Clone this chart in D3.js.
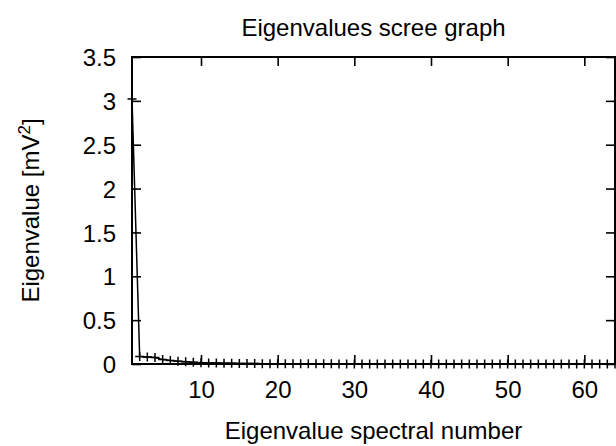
<!DOCTYPE html>
<html>
<head>
<meta charset="utf-8">
<script src="https://cdn.jsdelivr.net/npm/d3@7"></script>
<style>
  html, body { margin: 0; padding: 0; background: #fff; }
  svg { display: block; }
  text { font-family: "Liberation Sans", Arial, Helvetica, sans-serif; fill: #000; }
</style>
</head>
<body>
<script>
// Eigenvalue spectrum, index 1..64
const spectralNumbers = d3.range(1, 65);
const eigenvalues = [
  3.02, 0.085, 0.079, 0.073, 0.050, 0.040, 0.032, 0.025, 0.019, 0.015,
  0.012, 0.010, 0.0085, 0.0072, 0.0062, 0.0054, 0.0047, 0.0041, 0.0036, 0.0032,
  0.0028, 0.0025, 0.0022, 0.0020, 0.0018, 0.0016, 0.0015, 0.0014, 0.0013, 0.0012,
  0.0011, 0.0010, 0.00095, 0.0009, 0.00085, 0.0008, 0.00075, 0.0007, 0.00066, 0.00062,
  0.00058, 0.00055, 0.00052, 0.00049, 0.00046, 0.00043, 0.0004, 0.00038, 0.00036, 0.00034,
  0.00032, 0.0003, 0.00028, 0.00026, 0.00024, 0.00022, 0.0002, 0.00018, 0.00016, 0.00014,
  0.00012, 0.0001, 0.00008, 0.00006
];
const xTicks = [10, 20, 30, 40, 50, 60];
const yTicks = [0, 0.5, 1, 1.5, 2, 2.5, 3, 3.5];
const yTickLabels = ["0", "0.5", "1", "1.5", "2", "2.5", "3", "3.5"];

const W = 616, H = 446;
const plotL = 132, plotR = 615, plotT = 57, plotB = 364;
const fontSize = 24, tickLen = 9;

const svg = d3.select("body").append("svg")
  .attr("width", W).attr("height", H);

const x = d3.scaleLinear().domain([1, 64]).range([plotL, plotR]);
const y = d3.scaleLinear().domain([0, 3.5]).range([plotB, plotT]);

// Axes: ticks point inward on all four sides
const gBottom = svg.append("g").attr("transform", `translate(0,${plotB})`)
  .call(d3.axisBottom(x).tickValues(xTicks).tickFormat(d3.format("d"))
    .tickSizeInner(-tickLen).tickSizeOuter(0));
const gTop = svg.append("g").attr("transform", `translate(0,${plotT})`)
  .call(d3.axisTop(x).tickValues(xTicks).tickFormat("")
    .tickSizeInner(-tickLen).tickSizeOuter(0));
const gLeft = svg.append("g").attr("transform", `translate(${plotL},0)`)
  .call(d3.axisLeft(y).tickValues(yTicks).tickFormat((d, i) => yTickLabels[i])
    .tickSizeInner(-tickLen).tickSizeOuter(0));
const gRight = svg.append("g").attr("transform", `translate(${plotR},0)`)
  .call(d3.axisRight(y).tickValues(yTicks).tickFormat("")
    .tickSizeInner(-tickLen).tickSizeOuter(0));

[gBottom, gTop, gLeft, gRight].forEach(g => {
  g.attr("font-family", null).attr("font-size", null);
  g.select(".domain").remove();
  g.selectAll(".tick line").attr("stroke", "#000").attr("stroke-width", 1.6);
  g.selectAll(".tick text").attr("font-size", fontSize).attr("fill", "#000");
});
gBottom.selectAll(".tick text").attr("y", 34).attr("dy", null);
gLeft.selectAll(".tick text").attr("x", -16).attr("dy", "0.36em");
gTop.selectAll(".tick text").remove();
gRight.selectAll(".tick text").remove();

// Plot border
svg.append("rect")
  .attr("x", plotL).attr("y", plotT)
  .attr("width", plotR - plotL).attr("height", plotB - plotT)
  .attr("fill", "none").attr("stroke", "#000").attr("stroke-width", 2);

// Data line with "+" markers
const pts = spectralNumbers.map((n, i) => [n, eigenvalues[i]]);
svg.append("path")
  .datum(pts)
  .attr("fill", "none").attr("stroke", "#000").attr("stroke-width", 1.5)
  .attr("d", d3.line().x(d => x(d[0])).y(d => y(d[1])));

const s = 4.5;
svg.append("g").selectAll("path").data(pts).join("path")
  .attr("fill", "none").attr("stroke", "#000").attr("stroke-width", 1.5)
  .attr("d", d => {
    const px = x(d[0]), py = y(d[1]);
    return `M${px - s},${py}H${px + s}M${px},${py - s}V${py + s}`;
  });

// Titles
svg.append("text")
  .attr("x", (plotL + plotR) / 2).attr("y", 36)
  .attr("text-anchor", "middle").attr("font-size", fontSize)
  .text("Eigenvalues scree graph");

svg.append("text")
  .attr("x", (plotL + plotR) / 2).attr("y", 439)
  .attr("text-anchor", "middle").attr("font-size", fontSize)
  .text("Eigenvalue spectral number");

const yl = svg.append("text")
  .attr("transform", `translate(39,${(plotT + plotB) / 2}) rotate(-90)`)
  .attr("text-anchor", "middle").attr("font-size", fontSize);
yl.append("tspan").text("Eigenvalue [mV");
yl.append("tspan").attr("font-size", 17).attr("dy", -9).text("2");
yl.append("tspan").attr("dy", 9).text("]");
</script>
</body>
</html>
